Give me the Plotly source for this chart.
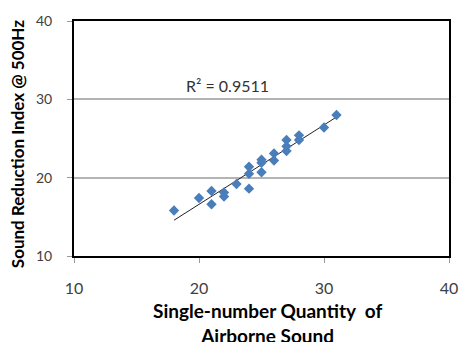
import numpy as np
import plotly.graph_objects as go

# Single-number quantity vs. sound reduction index at 500 Hz
quantity = [18, 20, 21, 21, 22, 22, 23, 24, 24, 24, 25, 25, 25, 26, 26, 27, 27, 27, 28, 28, 30, 31]
sri_500 = [15.8, 17.4, 16.6, 18.3, 17.6, 18.1, 19.2, 18.6, 21.4, 20.5, 20.7, 22.3, 21.9,
           23.1, 22.2, 24.8, 23.4, 24.0, 25.4, 24.8, 26.4, 28.0]
r2_label = "R² = 0.9511"
x_ticks = [10, 20, 30, 40]
y_ticks = [10, 20, 30, 40]

FONT = "Lato"
TICK_COLOR = "#404040"

# linear trend line over the observed range
slope, intercept = np.polyfit(quantity, sri_500, 1)
trend_x = np.array([min(quantity), max(quantity)])
trend_y = slope * trend_x + intercept

fig = go.Figure()
fig.add_trace(go.Scatter(
    x=trend_x, y=trend_y, mode="lines",
    line=dict(color="#222222", width=1), hoverinfo="skip", showlegend=False,
))
fig.add_trace(go.Scatter(
    x=quantity, y=sri_500, mode="markers",
    marker=dict(symbol="diamond", size=8, color="#4A7EBB", line=dict(width=0)),
    showlegend=False,
))

fig.add_annotation(
    x=18.8, y=31.8, xref="x", yref="y", text=r2_label, showarrow=False,
    xanchor="left", yanchor="middle", font=dict(family=FONT, size=16, color="#333333"),
)
fig.add_annotation(
    x=0.516, y=-0.283, xref="paper", yref="paper",
    text="<b>Single-number Quantity  of<br>Airborne Sound</b>", showarrow=False,
    xanchor="center", yanchor="middle", align="center",
    font=dict(family=FONT, size=19, color="#000000"),
)
fig.add_annotation(
    x=-0.15, y=0.475, xref="paper", yref="paper",
    text="<b>Sound Reduction Index @ 500Hz</b>", showarrow=False, textangle=-90,
    xanchor="center", yanchor="middle",
    font=dict(family=FONT, size=17, color="#000000"),
)

fig.update_xaxes(
    range=[10, 40], tickvals=x_ticks, showgrid=False, zeroline=False,
    showline=True, linecolor="#000000", linewidth=2, mirror=True,
    ticks="outside", ticklen=5, tickcolor="#999999", tickwidth=1,
    ticklabelstandoff=12, tickfont=dict(family=FONT, size=16, color=TICK_COLOR),
)
fig.update_yaxes(
    range=[10, 40], tickvals=y_ticks, showgrid=True, gridcolor="#B4B4B4", gridwidth=2,
    zeroline=False, showline=True, linecolor="#000000", linewidth=2, mirror=True,
    ticks="outside", ticklen=5, tickcolor="#999999", tickwidth=1,
    ticklabelstandoff=12, tickfont=dict(family=FONT, size=14, color=TICK_COLOR),
)

fig.update_layout(
    width=470, height=342,
    margin=dict(l=74, r=17, t=14, b=86),
    paper_bgcolor="white", plot_bgcolor="white",
)

fig.write_html("out.html")
